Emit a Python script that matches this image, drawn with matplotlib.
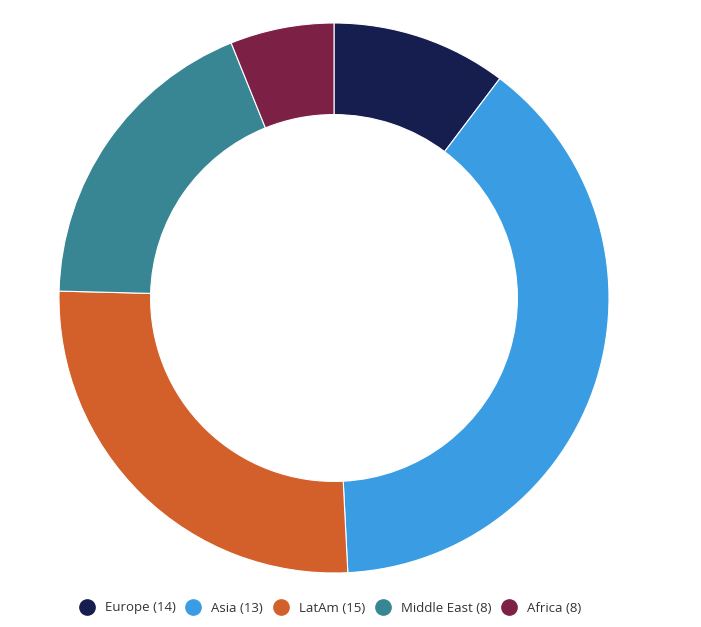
import matplotlib
matplotlib.use("Agg")
import matplotlib.pyplot as plt
from matplotlib.lines import Line2D

categories = ["Europe", "Asia", "LatAm", "Middle East", "Africa"]
counts = [14, 13, 15, 8, 8]
shares = [10.3, 38.9, 26.2, 18.5, 6.1]
colors = ["#161d4f", "#3a9de3", "#d35f2b", "#388593", "#7d2046"]

plt.rcParams['font.family'] = ['Open Sans', 'DejaVu Sans']

fig = plt.figure(figsize=(7.01, 6.27), dpi=100)
ax = fig.add_axes([59/701, 54/627, 550/701, 550/627])
ax.pie(shares, colors=colors, startangle=90, counterclock=False, radius=1,
       wedgeprops=dict(width=0.333, edgecolor="white", linewidth=0.8))
ax.set_xlim(-1, 1)
ax.set_ylim(-1, 1)
ax.set_aspect("equal")
ax.axis("off")

handles = [Line2D([0], [0], marker="o", linestyle="none", markersize=11,
                  markerfacecolor=c, markeredgecolor=c) for c in colors]
labels = [f"{c} ({n})" for c, n in zip(categories, counts)]
fig.legend(handles, labels, loc="center", bbox_to_anchor=(329/701, 1 - 608/627),
           ncol=5, frameon=False, fontsize=9.5, handletextpad=0.6,
           handlelength=1.5, columnspacing=0.6, labelcolor="#333333")

fig.savefig("out.png", dpi=100)
